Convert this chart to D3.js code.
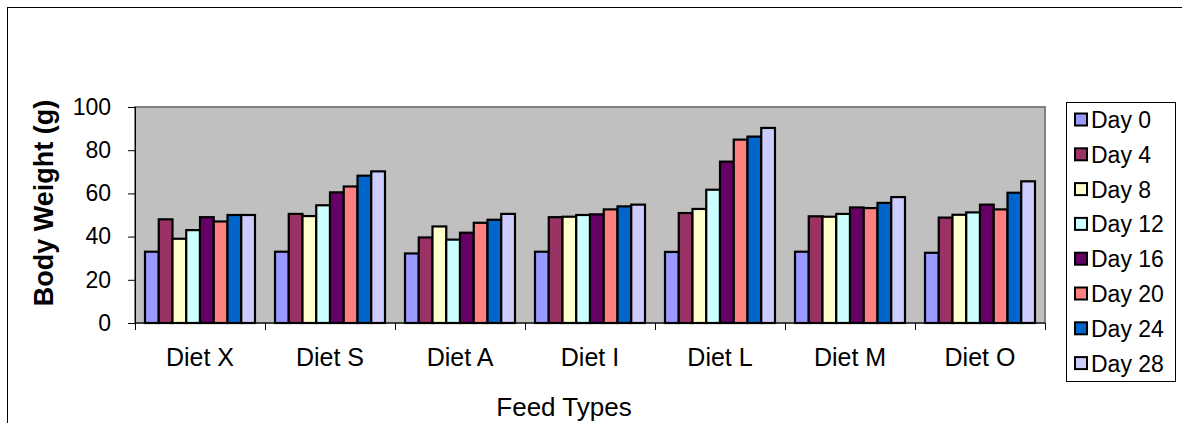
<!DOCTYPE html>
<html lang="en">
<head>
<meta charset="UTF-8">
<title>Body Weight by Feed Type</title>
<script src="https://d3js.org/d3.v7.min.js"></script>
<style>
  body { margin: 0; background: #fff; }
  text { font-family: Arial, "Liberation Sans", sans-serif; fill: #000; }
</style>
</head>
<body>
<svg width="1182" height="423"></svg>
<script>
// data
var diets = ['Diet X', 'Diet S', 'Diet A', 'Diet I', 'Diet L', 'Diet M', 'Diet O'];
var days = ['Day 0', 'Day 4', 'Day 8', 'Day 12', 'Day 16', 'Day 20', 'Day 24', 'Day 28'];
var day0  = [33, 33, 32.2, 33, 32.9, 33, 32.5];
var day4  = [48, 50.5, 39.6, 49, 50.9, 49.4, 48.8];
var day8  = [39, 49.5, 44.7, 49.2, 52.8, 49.2, 50.1];
var day12 = [43, 54.5, 38.6, 50, 61.7, 50.5, 51.2];
var day16 = [49, 60.5, 41.8, 50.3, 74.7, 53.5, 54.8];
var day20 = [47, 63.2, 46.4, 52.6, 84.9, 53.2, 52.6];
var day24 = [50, 68.2, 47.8, 54, 86.3, 55.6, 60.3];
var day28 = [50, 70.2, 50.5, 54.8, 90.3, 58.3, 65.6];
var yTicks = [0, 20, 40, 60, 80, 100];

var series = [day0, day4, day8, day12, day16, day20, day24, day28];
var colors = ['#9999ff', '#993366', '#ffffcc', '#ccffff', '#660066', '#ff8080', '#0066cc', '#ccccff'];

var svg = d3.select('svg');

// outer chart border (runs off the right / bottom)
svg.append('rect')
    .attr('x', 7.5).attr('y', 7.5)
    .attr('width', 1200).attr('height', 440)
    .attr('fill', 'none')
    .attr('stroke', '#000');

var plot = {left: 135, right: 1045, top: 107, bottom: 323};

var x0 = d3.scaleBand().domain(diets).range([plot.left, plot.right]);
var x1 = d3.scaleBand().domain(d3.range(days.length)).range([10, x0.bandwidth() - 10]);
var y = d3.scaleLinear().domain([0, 100]).range([plot.bottom, plot.top]);

// plot area
svg.append('rect')
    .attr('x', plot.left).attr('y', plot.top)
    .attr('width', plot.right - plot.left).attr('height', plot.bottom - plot.top)
    .attr('fill', '#c0c0c0')
    .attr('stroke', '#808080')
    .attr('stroke-width', 2);

// bars
var groups = svg.selectAll('.grp')
    .data(diets)
    .enter()
    .append('g')
    .attr('transform', function (d) { return 'translate(' + x0(d) + ',0)'; });

groups.selectAll('rect')
    .data(function (d, i) {
        return series.map(function (s, j) { return {k: j, v: s[i]}; });
    })
    .enter()
    .append('rect')
    .attr('x', function (d) { return x1(d.k); })
    .attr('y', function (d) { return y(d.v); })
    .attr('width', x1.bandwidth())
    .attr('height', function (d) { return y(0) - y(d.v); })
    .attr('fill', function (d) { return colors[d.k]; })
    .attr('stroke', '#000')
    .attr('stroke-width', 2.2);

// y axis
var yAxis = svg.append('g')
    .attr('transform', 'translate(' + plot.left + ',0)')
    .call(d3.axisLeft(y).tickValues(yTicks).tickSize(7).tickPadding(17));
yAxis.selectAll('text').style('font-size', '23px');
yAxis.selectAll('line, path').attr('stroke', '#000');

// x axis: ticks on category edges
svg.append('line')
    .attr('x1', plot.left).attr('x2', plot.right)
    .attr('y1', plot.bottom).attr('y2', plot.bottom)
    .attr('stroke', '#000');
svg.selectAll('.xtick')
    .data(diets.concat(['end']))
    .enter()
    .append('line')
    .attr('x1', function (d, i) { return plot.left + i * x0.bandwidth() + 0.5; })
    .attr('x2', function (d, i) { return plot.left + i * x0.bandwidth() + 0.5; })
    .attr('y1', plot.bottom).attr('y2', plot.bottom + 7)
    .attr('stroke', '#000');
svg.selectAll('.xlab')
    .data(diets)
    .enter()
    .append('text')
    .attr('x', function (d) { return x0(d) + x0.bandwidth() / 2; })
    .attr('y', 366)
    .attr('text-anchor', 'middle')
    .style('font-size', '25px')
    .text(function (d) { return d; });

// axis titles
svg.append('text')
    .attr('x', 564).attr('y', 416)
    .attr('text-anchor', 'middle')
    .style('font-size', '26px')
    .text('Feed Types');

svg.append('text')
    .attr('transform', 'translate(53,203) rotate(-90)')
    .attr('text-anchor', 'middle')
    .style('font-size', '27px')
    .style('font-weight', 'bold')
    .text('Body Weight (g)');

// legend
svg.append('rect')
    .attr('x', 1066.5).attr('y', 102.5)
    .attr('width', 109).attr('height', 279)
    .attr('fill', '#fff')
    .attr('stroke', '#000');

var lg = svg.selectAll('.lg')
    .data(days)
    .enter()
    .append('g')
    .attr('transform', function (d, i) { return 'translate(1075,' + (119.5 + i * 34.8) + ')'; });

lg.append('rect')
    .attr('x', 0).attr('y', -6)
    .attr('width', 12).attr('height', 12)
    .attr('fill', function (d, i) { return colors[i]; })
    .attr('stroke', '#000')
    .attr('stroke-width', 2);

lg.append('text')
    .attr('x', 16).attr('y', 8.5)
    .style('font-size', '23px')
    .text(function (d) { return d; });
</script>
</body>
</html>
